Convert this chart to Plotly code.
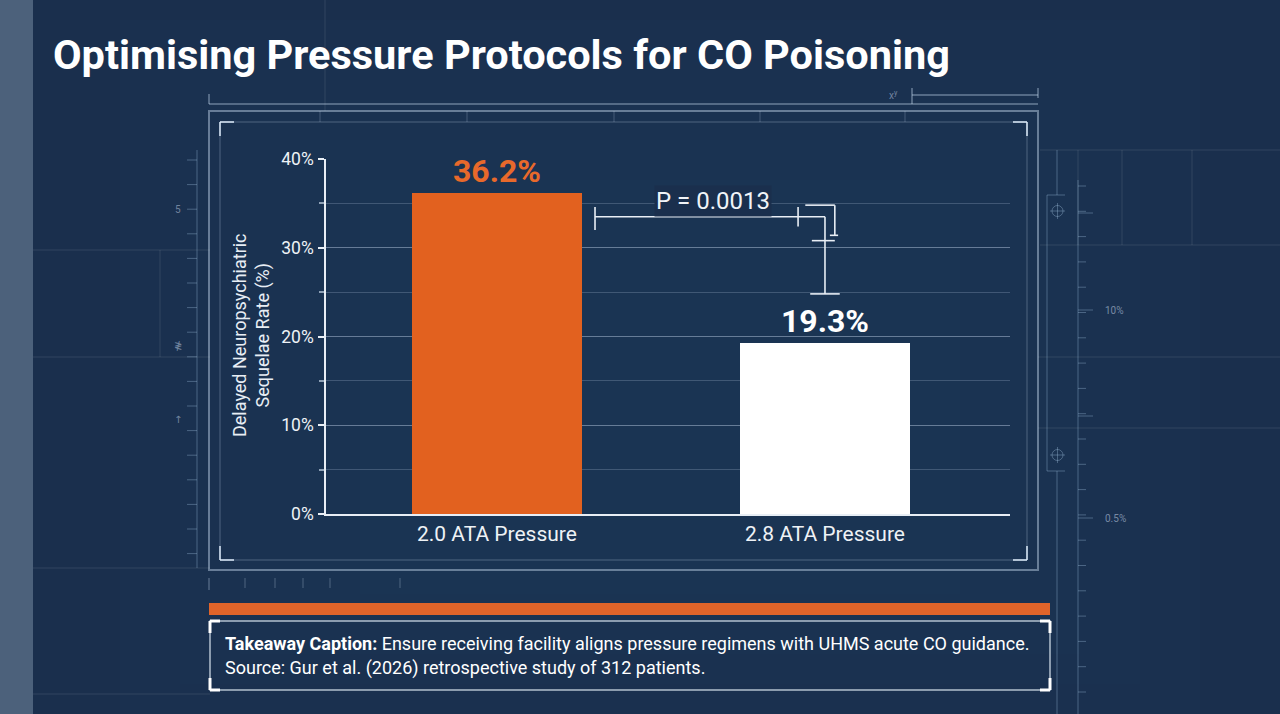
import plotly.graph_objects as go

# ---- data ----
categories = ["2.0 ATA Pressure", "2.8 ATA Pressure"]
rates = [36.2, 19.3]
bar_colors = ["#e2611f", "#ffffff"]
label_colors = ["#e8692b", "#ffffff"]
y_ticks = [0, 10, 20, 30, 40]
y_tick_text = ["0%", "10%", "20%", "30%", "40%"]
p_value_text = "P = 0.0013"
title_text = "Optimising Pressure Protocols for CO Poisoning"
y_title = "Delayed Neuropsychiatric<br>Sequelae Rate (%)"
caption_bold = "Takeaway Caption:"
caption_rest = " Ensure receiving facility aligns pressure regimens with UHMS acute CO guidance."
source_text = "Source: Gur et al. (2026) retrospective study of 312 patients."

W, H = 1280, 714
BG = "#1a2f4d"
FONT = "Roboto"


def px(x):
    return x / W


def py(y):
    return 1 - y / H


fig = go.Figure()
fig.add_trace(go.Bar(
    x=[0, 1], y=rates, width=0.52,
    marker=dict(color=bar_colors, line=dict(width=0)),
    hoverinfo="skip", showlegend=False,
))

shapes = []
annotations = []


def line(x0, y0, x1, y1, color="rgba(255,255,255,0.18)", width=1):
    shapes.append(dict(type="line", xref="paper", yref="paper",
                       x0=px(x0), y0=py(y0), x1=px(x1), y1=py(y1),
                       line=dict(color=color, width=width), layer="below"))


def rect(x0, y0, x1, y1, color="rgba(255,255,255,0.18)", width=1, fill="rgba(0,0,0,0)", layer="below"):
    shapes.append(dict(type="rect", xref="paper", yref="paper",
                       x0=px(x0), y0=py(y0), x1=px(x1), y1=py(y1),
                       line=dict(color=color, width=width), fillcolor=fill, layer=layer))


def label(x, y, text, size=10, color="rgba(200,215,235,0.5)", family=FONT, xanchor="center"):
    annotations.append(dict(x=px(x), y=py(y), xref="paper", yref="paper", text=text,
                            showarrow=False, xanchor=xanchor, yanchor="middle",
                            font=dict(size=size, color=color, family=family)))


# soft centre glow (nested translucent layers)
for k in range(5):
    rect(120 + k * 60, 20 + k * 40, 1200 - k * 60, 714 - k * 30,
         color="rgba(0,0,0,0)", width=0, fill="rgba(45,75,115,0.05)")
# left strip
rect(0, 0, 33, H, color="rgba(0,0,0,0)", width=0, fill="#4c617b")
# faint background grid
faint = "rgba(255,255,255,0.10)"
line(33, 250, 210, 250, faint)
line(33, 357, 210, 357, faint)
line(160, 250, 160, 357, faint)
line(33, 568, 210, 568, faint)
line(325, 0, 325, 111, faint)
line(1040, 150, 1280, 150, faint)
line(1040, 245, 1280, 245, faint)
line(1078, 150, 1078, 245, faint)
line(1122, 150, 1122, 245, faint)
line(1192, 150, 1192, 245, faint)
line(1038, 357, 1280, 357, faint)
line(1038, 428, 1280, 428, faint)
line(33, 694, 210, 694, faint)

# left ruler
ruler_c = "rgba(170,200,230,0.35)"
line(197, 150, 197, 568, ruler_c, 1)
for i in range(17):
    yy = 160 + i * 24.6
    line(187, yy, 197, yy, ruler_c, 1)
label(178, 209, "5")
label(178, 345, "≹", family="DejaVu Sans")
label(178, 419, "↑", family="DejaVu Sans")

# right ruler
line(1078, 180, 1078, 714, ruler_c, 1)
for i in range(22):
    yy = 186 + i * 25.3
    line(1078, yy, 1086, yy, ruler_c, 1)
for yy in [213, 310, 416, 518]:
    line(1078, yy, 1093, yy, ruler_c, 1)
label(1103, 310, "10%", color="rgba(200,215,235,0.55)", xanchor="left")
label(1103, 518, "0.5%", color="rgba(200,215,235,0.55)", xanchor="left")
# right bracket with crosshairs
line(1047, 195, 1047, 471, ruler_c, 1)
line(1047, 195, 1065, 195, ruler_c, 1)
line(1047, 471, 1065, 471, ruler_c, 1)
line(1057, 150, 1057, 195, ruler_c, 1)
line(1057, 471, 1057, 714, ruler_c, 1)
for cy in [211, 455]:
    shapes.append(dict(type="circle", xref="paper", yref="paper",
                       x0=px(1052), x1=px(1063), y0=py(cy - 5.5), y1=py(cy + 5.5),
                       line=dict(color=ruler_c, width=1), layer="below"))
    line(1050, cy, 1065, cy, ruler_c, 1)
    line(1057.5, cy - 8, 1057.5, cy + 8, ruler_c, 1)

# top decorative line
frame_c = "rgba(200,220,240,0.45)"
line(209, 104, 1038, 104, frame_c, 1.5)
line(209, 94, 209, 104, frame_c, 1.5)
line(912, 95, 1038, 95, frame_c, 1.5)
line(912, 88, 912, 104, frame_c, 1.5)
line(1038, 88, 1038, 98, frame_c, 1.5)
label(893, 95, "x<sup>y</sup>")

# outer/inner frames
rect(209, 111, 1038, 570, frame_c, 2)
rect(220, 122, 1027, 560, "rgba(200,220,240,0.30)", 1)
for xx in [320, 467, 614, 760, 905]:
    line(xx, 111, xx, 122, "rgba(200,220,240,0.25)", 1)
cc = "rgba(220,235,250,0.75)"
for (cx, cy, dx, dy) in [(220, 122, 1, 1), (1027, 122, -1, 1), (220, 560, 1, -1), (1027, 560, -1, -1)]:
    line(cx, cy, cx + dx * 14, cy, cc, 2)
    line(cx, cy, cx, cy + dy * 14, cc, 2)

# bottom ruler under frame
line(209, 578, 209, 590, frame_c, 1)
for xx in [245, 275, 303, 330, 400]:
    line(xx, 578, xx, 588, "rgba(200,220,240,0.3)", 1)

# orange strip
rect(209, 603, 1050, 615, color="rgba(0,0,0,0)", width=0, fill="#e0642a")
# caption box
rect(210, 621, 1050, 690, "rgba(230,240,250,0.75)", 1.5)
for (cx, cy, dx, dy) in [(210, 621, 1, 1), (1050, 621, -1, 1), (210, 690, 1, -1), (1050, 690, -1, -1)]:
    line(cx, cy, cx + dx * 10, cy, "#ffffff", 3)
    line(cx, cy, cx, cy + dy * 12, "#ffffff", 3)

# p-value bracket (data coords)
br = dict(color="#e8eef5", width=1.6)
bracket = [
    (0.299, 33.5, 1.0, 33.5),
    (0.299, 32.0, 0.299, 34.6),
    (1.0, 33.5, 1.0, 24.8),
    (0.955, 24.8, 1.045, 24.8),
    (0.918, 32.4, 0.918, 34.6),
    (0.94, 34.8, 1.03, 34.8),
    (1.03, 34.8, 1.03, 31.4),
    (1.015, 31.4, 1.04, 31.4),
    (0.96, 30.8, 1.03, 30.8),
]
for (x0, y0, x1, y1) in bracket:
    shapes.append(dict(type="line", xref="x", yref="y", x0=x0, y0=y0, x1=x1, y1=y1,
                       line=br, layer="above"))

annotations += [
    dict(x=px(51), y=py(55), xref="paper", yref="paper", text=title_text, showarrow=False,
         xanchor="left", yanchor="middle",
         font=dict(size=41.5, color="#ffffff", family=FONT, weight="bold")),
    dict(x=0.659, y=35.3, xref="x", yref="y", text=p_value_text, showarrow=False,
         xanchor="center", yanchor="middle",
         font=dict(size=24, color="#f0f4f8", family=FONT), bgcolor=BG),
    dict(x=px(251), y=py(335), xref="paper", yref="paper", text=y_title, showarrow=False,
         xanchor="center", yanchor="middle",
         textangle=-90, font=dict(size=18, color="#e8eef5", family=FONT)),
    dict(x=px(223), y=py(643), xref="paper", yref="paper",
         text=f"<b>{caption_bold}</b>{caption_rest}", showarrow=False,
         xanchor="left", yanchor="middle",
         font=dict(size=18, color="#ffffff", family=FONT)),
    dict(x=px(223), y=py(668), xref="paper", yref="paper", text=source_text, showarrow=False,
         xanchor="left", yanchor="middle",
         font=dict(size=18, color="#ffffff", family=FONT)),
]
for i, (v, c) in enumerate(zip(rates, label_colors)):
    annotations.append(dict(x=i, y=v, xref="x", yref="y", text=f"{v}%", showarrow=False,
                            xanchor="center", yanchor="bottom", yshift=1,
                            font=dict(size=32, color=c, family=FONT, weight="bold")))

fig.update_layout(
    width=W, height=H,
    margin=dict(l=0, r=0, t=0, b=0, pad=0, autoexpand=False),
    paper_bgcolor=BG, plot_bgcolor="rgba(0,0,0,0)",
    showlegend=False,
    bargap=0.0,
    shapes=shapes,
    annotations=annotations,
    xaxis=dict(
        domain=[px(326), px(1010)], range=[-0.521, 1.564],
        tickvals=[0, 1], ticktext=categories,
        showline=True, linecolor="#e8eef5", linewidth=1.5,
        showgrid=False, zeroline=False, ticks="",
        tickfont=dict(size=21, color="#eef2f6", family=FONT),
        automargin=False, fixedrange=True,
    ),
    yaxis=dict(
        domain=[1 - 514 / H, 1 - 159 / H], range=[0, 40],
        tickvals=y_ticks, ticktext=y_tick_text,
        showline=True, linecolor="#e8eef5", linewidth=1.5,
        ticks="outside", ticklen=6, tickcolor="#e8eef5", tickwidth=1.5,
        ticklabelstandoff=1,
        showgrid=True, gridcolor="rgba(200,220,240,0.28)", gridwidth=1,
        minor=dict(dtick=5, showgrid=True, gridcolor="rgba(200,220,240,0.22)", gridwidth=1,
                   ticks="outside", ticklen=5, tickcolor="rgba(220,235,250,0.6)"),
        zeroline=False,
        tickfont=dict(size=17.5, color="#eef2f6", family=FONT),
        automargin=False, fixedrange=True,
    ),
)

fig.write_html("out.html")
